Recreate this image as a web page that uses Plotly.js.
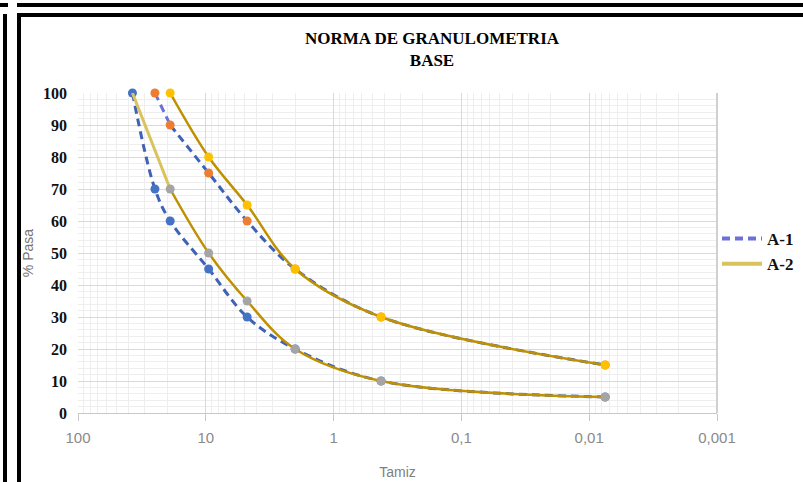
<!DOCTYPE html>
<html>
<head>
<meta charset="utf-8">
<script src="https://cdn.plot.ly/plotly-3.0.1.min.js"></script>
<style>
  html, body { margin: 0; padding: 0; background: #fff; }
  #wrap { position: relative; width: 803px; height: 482px; overflow: hidden; }
  #chart { position: absolute; left: 0; top: 0; width: 803px; height: 482px; }
  .bar { position: absolute; background: #000; }
</style>
</head>
<body>
<div id="wrap">
  <div id="chart"></div>
  <div class="bar" style="left:0px;top:3px;width:8px;height:4px;"></div>
  <div class="bar" style="left:3px;top:14px;width:4px;height:468px;"></div>
  <div class="bar" style="left:17px;top:3px;width:786px;height:4px;"></div>
  <div class="bar" style="left:17px;top:13px;width:786px;height:4px;"></div>
  <div class="bar" style="left:17px;top:13px;width:4px;height:469px;"></div>
</div>
<script>
// Sieve sizes (mm) and percent passing
const a1LowerX = [37.5, 25, 19, 9.5, 4.75, 2, 0.425, 0.0075];
const a1LowerY = [100, 70, 60, 45, 30, 20, 10, 5];
const a1UpperX = [25, 19, 9.5, 4.75, 2, 0.425, 0.0075];
const a1UpperY = [100, 90, 75, 60, 45, 30, 15];
const a2LowerX = [37.5, 19, 9.5, 4.75, 2, 0.425, 0.0075];
const a2LowerY = [100, 70, 50, 35, 20, 10, 5];
const a2UpperX = [19, 9.5, 4.75, 2, 0.425, 0.0075];
const a2UpperY = [100, 80, 65, 45, 30, 15];

const xTickVals = [100, 10, 1, 0.1, 0.01, 0.001];
const xTickText = ['100', '10', '1', '0,1', '0,01', '0,001'];
const seriesNames = ['A-1', 'A-2'];

const dashBlue = '#3f62b6';
const dashLight = '#6c70d8';
const gold = '#bf9000';
const goldLight = '#d8c35c';
const dashPat = '8px,5px';

const traces = [
  // A-1 lower limit
  { x: a1LowerX, y: a1LowerY, mode: 'lines+markers', showlegend: false, cliponaxis: false,
    line: { color: dashBlue, width: 3, dash: dashPat, shape: 'spline' },
    marker: { color: '#4472C4', size: 9 } },
  // A-1 upper limit (light first segment)
  { x: a1UpperX.slice(0, 2), y: a1UpperY.slice(0, 2), mode: 'lines', showlegend: false, cliponaxis: false,
    line: { color: dashLight, width: 3, dash: dashPat } },
  { x: a1UpperX.slice(1), y: a1UpperY.slice(1), mode: 'lines', showlegend: false, cliponaxis: false,
    line: { color: dashBlue, width: 3, dash: dashPat, shape: 'spline' } },
  { x: a1UpperX, y: a1UpperY, mode: 'markers', showlegend: false, cliponaxis: false,
    marker: { color: '#ED7D31', size: 9 } },
  // A-2 lower limit (light first segment)
  { x: a2LowerX.slice(0, 2), y: a2LowerY.slice(0, 2), mode: 'lines', showlegend: false, cliponaxis: false,
    line: { color: goldLight, width: 3 } },
  { x: a2LowerX.slice(1), y: a2LowerY.slice(1), mode: 'lines+markers', showlegend: false, cliponaxis: false,
    line: { color: gold, width: 2.5, shape: 'spline' },
    marker: { color: '#A5A5A5', size: 9 } },
  // A-2 upper limit
  { x: a2UpperX, y: a2UpperY, mode: 'lines+markers', showlegend: false, cliponaxis: false,
    line: { color: gold, width: 2.5, shape: 'spline' },
    marker: { color: '#FFC000', size: 9 } },
  // legend entries
  { x: [null], y: [null], mode: 'lines', name: seriesNames[0],
    line: { color: dashLight, width: 4, dash: '8px,5px' } },
  { x: [null], y: [null], mode: 'lines', name: seriesNames[1],
    line: { color: goldLight, width: 4 } }
];

const layout = {
  width: 803, height: 482,
  margin: { l: 78, r: 86, t: 93, b: 69, autoexpand: false },
  paper_bgcolor: '#ffffff', plot_bgcolor: '#ffffff',
  title: {
    text: '<b>NORMA DE GRANULOMETRIA<br>BASE</b>',
    font: { family: 'Liberation Serif, Times New Roman, serif', size: 17, color: '#000' },
    xref: 'container', x: 0.538, xanchor: 'center',
    yref: 'container', y: 0.908, yanchor: 'top'
  },
  xaxis: {
    type: 'log', range: [2, -3],
    tickvals: xTickVals, ticktext: xTickText,
    ticks: 'outside', ticklen: 7, tickcolor: '#c8c8c8', tickwidth: 1,
    ticklabelstandoff: 4,
    showline: true, linecolor: '#c8c8c8', linewidth: 1,
    showgrid: true, gridcolor: '#d9d9d9', gridwidth: 1,
    minor: { dtick: 'D1', showgrid: true, gridcolor: '#eeeeee', ticks: '' },
    tickfont: { family: 'Liberation Sans, Arial, sans-serif', size: 15, color: '#8a8a8a' },
    title: { text: 'Tamiz', standoff: 22,
      font: { family: 'Liberation Sans, Arial, sans-serif', size: 14, color: '#7f7f7f' } },
    zeroline: false, mirror: false, automargin: false
  },
  yaxis: {
    range: [0, 100], dtick: 10,
    showgrid: true, gridcolor: '#d9d9d9', gridwidth: 1,
    minor: { dtick: 2, showgrid: true, gridcolor: '#eeeeee' },
    ticks: '', ticklabelstandoff: 10,
    tickfont: { family: 'Liberation Serif, Times New Roman, serif', size: 16, color: '#111' },
    tickprefix: '<b>', ticksuffix: '</b>',
    showline: false, zeroline: false, automargin: false,
    title: { text: '% Pasa', standoff: 6,
      font: { family: 'Liberation Sans, Arial, sans-serif', size: 14, color: '#767676' } }
  },
  shapes: [
    { type: 'line', xref: 'paper', yref: 'paper', x0: 1, x1: 1, y0: 0, y1: 1,
      line: { color: '#d0d0d0', width: 2 } }
  ],
  showlegend: true,
  legend: {
    x: 1.0, xanchor: 'left', y: 0.6, yanchor: 'top', itemwidth: 40,
    font: { family: 'Liberation Serif, Times New Roman, serif', size: 17, color: '#111', weight: 'bold' },
    bgcolor: 'rgba(0,0,0,0)', tracegroupgap: 4
  }
};

Plotly.newPlot('chart', traces, layout, { displayModeBar: false, staticPlot: true });
</script>
</body>
</html>
